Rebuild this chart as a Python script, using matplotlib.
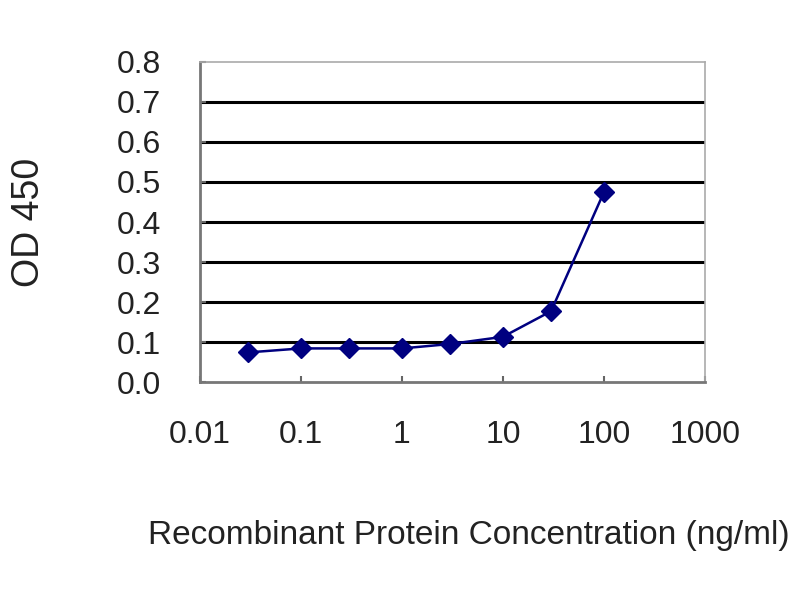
import matplotlib
matplotlib.use("Agg")
import matplotlib.pyplot as plt
from matplotlib.ticker import FixedLocator, NullLocator

# Data
concentration = [0.03, 0.1, 0.3, 1, 3, 10, 30, 100]
od450 = [0.074, 0.084, 0.084, 0.084, 0.095, 0.113, 0.177, 0.474]
x_ticks = [0.01, 0.1, 1, 10, 100, 1000]
x_tick_labels = ["0.01", "0.1", "1", "10", "100", "1000"]
y_ticks = [0.0, 0.1, 0.2, 0.3, 0.4, 0.5, 0.6, 0.7, 0.8]
y_tick_labels = ["0.0", "0.1", "0.2", "0.3", "0.4", "0.5", "0.6", "0.7", "0.8"]

plt.rcParams['font.family'] = ['Liberation Sans', 'DejaVu Sans']

fig = plt.figure(figsize=(8, 6), dpi=100)
ax = fig.add_axes([0.25, 0.3633, 0.631, 0.5334])

ax.set_xscale('log')
ax.set_xlim(0.01, 1000)
ax.set_ylim(0, 0.8)

# gridlines
for yv in y_ticks[1:-1]:
    ax.axhline(yv, color='black', lw=2.2, zorder=1)

ax.plot(concentration, od450, color='#000080', lw=1.8, marker='D',
        markersize=10, markerfacecolor='#000080', markeredgecolor='#000080',
        zorder=3, clip_on=False)

ax.xaxis.set_major_locator(FixedLocator(x_ticks))
ax.xaxis.set_minor_locator(NullLocator())
ax.set_xticks(x_ticks)
ax.set_xticklabels(x_tick_labels, fontsize=23, color='#222222')
ax.set_yticks(y_ticks)
ax.set_yticklabels(y_tick_labels, fontsize=23, color='#222222')

ax.tick_params(axis='x', direction='in', length=4, width=1.5, color='#666666', pad=27)
ax.tick_params(axis='y', direction='in', length=4, width=1.5, color='#666666', pad=28)

for side in ['left', 'bottom']:
    ax.spines[side].set_color('#777777')
    ax.spines[side].set_linewidth(2)
for side in ['top', 'right']:
    ax.spines[side].set_color('#aaaaaa')
    ax.spines[side].set_linewidth(1.2)

ax.set_xlabel("Recombinant Protein Concentration (ng/ml)", fontsize=24,
              color='#222222')
ax.xaxis.set_label_coords(0.533, -0.43)
ax.set_ylabel("OD 450", fontsize=27, color='#222222', labelpad=50)

fig.savefig("out.png", dpi=100)
